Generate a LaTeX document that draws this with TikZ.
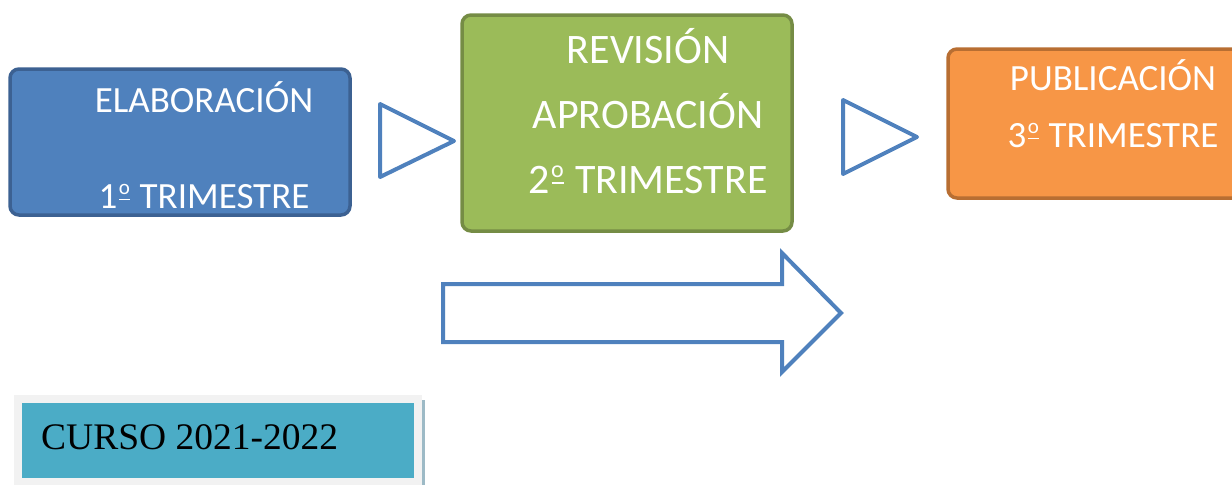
\documentclass[tikz,border=0pt]{standalone}
\usepackage{fontspec}
\setmainfont{Carlito}
\newfontfamily\timesf{Liberation Serif}
\definecolor{bluefill}{HTML}{4F81BD}
\definecolor{blueedge}{HTML}{3C6192}
\definecolor{greenfill}{HTML}{9BBB59}
\definecolor{greenedge}{HTML}{758C45}
\definecolor{orangefill}{HTML}{F79646}
\definecolor{orangeedge}{HTML}{B86E32}
\definecolor{cyanfill}{HTML}{4BACC6}
\definecolor{greyframe}{HTML}{F2F2F2}
\definecolor{shadowline}{HTML}{9DBAC6}
\newcommand\ordmark[2]{\kern0.04em\relax\raisebox{#2}{\fontsize{#1}{#1}\selectfont\ooalign{o\cr\hidewidth\raisebox{-0.28em}{\rule{0.5em}{0.085em}}\hidewidth\cr}}\kern0.04em\relax}
\begin{document}
\begin{tikzpicture}[x=1pt,y=-1pt,
  stagebox/.style={draw, line width=3.5pt, rounded corners=9pt},
  boxtext/.style={text=white, anchor=base, inner sep=0pt},
  outline/.style={draw=bluefill, line width=4pt, line join=round, fill=white}]
\useasboundingbox (0,0) rectangle (1232,485);
% stage boxes
\draw[stagebox, fill=bluefill, draw=blueedge] (10,69) rectangle (350,215);
\draw[stagebox, fill=greenfill, draw=greenedge] (462,15) rectangle (792,231);
\draw[stagebox, fill=orangefill, draw=orangeedge] (948,49) rectangle (1250,198);
% texts
\node[boxtext, font=\fontsize{37}{37}\selectfont] (e1) at (204,112) {ELABORACIÓN};
\node[boxtext, font=\fontsize{37}{37}\selectfont] (e2) at (204,208) {1\ordmark{21}{13.5pt} TRIMESTRE};
\node[boxtext, font=\fontsize{42}{42}\selectfont] (r1) at (648,63) {REVISIÓN};
\node[boxtext, font=\fontsize{42}{42}\selectfont] (r2) at (648,128) {APROBACIÓN};
\node[boxtext, font=\fontsize{42}{42}\selectfont] (r3) at (648,193) {2\ordmark{24}{15.5pt} TRIMESTRE};
\node[boxtext, font=\fontsize{37}{37}\selectfont] (p1) at (1113,90) {PUBLICACIÓN};
\node[boxtext, font=\fontsize{37}{37}\selectfont] (p2) at (1113,147) {3\ordmark{21}{13.5pt} TRIMESTRE};
% triangles
\draw[outline] (380,104) -- (380,177) -- (454,141) -- cycle;
\draw[outline] (843,100) -- (843,174) -- (917,137) -- cycle;
% big arrow
\draw[outline, line join=miter] (443,284) -- (782,284) -- (782,253) -- (841,313) -- (782,372) -- (782,342) -- (443,342) -- cycle;
% course box
\fill[greyframe] (14,395) rectangle (422,485);
\fill[shadowline] (422,400) rectangle (425,485);
\fill[cyanfill] (22,403) rectangle (414,478);
\node[anchor=base west, inner sep=0pt, font=\timesf\fontsize{37.5}{37.5}\selectfont] (c) at (41,449) {CURSO 2021-2022};
\end{tikzpicture}
\end{document}
